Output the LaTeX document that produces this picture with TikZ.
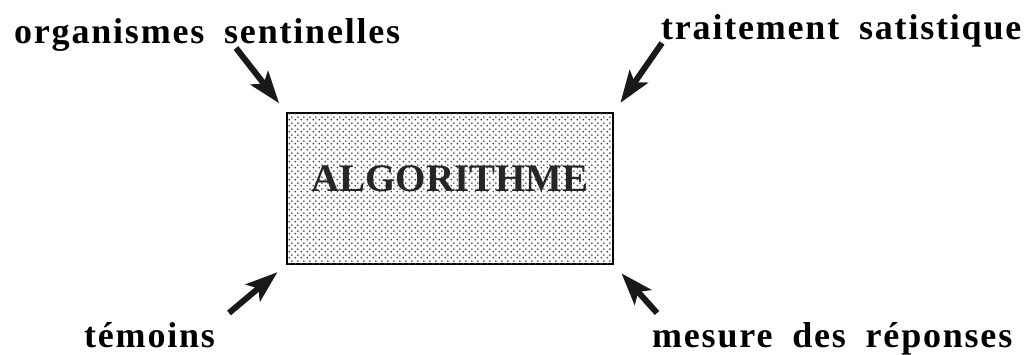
\documentclass[tikz,border=0pt]{standalone}
\usepackage{fontspec}
\setmainfont{Liberation Serif}
\usetikzlibrary{arrows.meta,patterns.meta}

% halftone dot screen for the process box
\tikzdeclarepattern{
  name=screendots,
  type=uncolored,
  bounding box={(0pt,0pt) and (6pt,6pt)},
  tile size={(6pt,6pt)},
  code={
    \fill (1.5pt,1.5pt) circle (1.1pt);
    \fill (4.5pt,4.5pt) circle (1.1pt);
  }
}

\tikzset{
  label text/.style={anchor=base west, inner sep=0pt,
    font=\fontsize{36}{40}\selectfont\bfseries\addfontfeatures{LetterSpace=5}},
  process/.style={draw=black, line width=2.2pt, fill=white,
    postaction={pattern=screendots, pattern color=black!75},
    minimum width=326pt, minimum height=151pt, inner sep=0pt},
  input arrow/.style={line width=6pt, draw=black!90,
    -{Stealth[length=32pt,width=22pt,inset=7pt]}, shorten >=11pt}
}

\newcommand{\wsp}{\hspace{0.55em}}

\begin{document}
\begin{tikzpicture}[x=1pt,y=-1pt]
  \useasboundingbox (0,0) rectangle (1030,354);

  % central box
  \node[process] (algo) at (450,188.5) {};
  \node[anchor=base, inner sep=0pt, font=\fontsize{39}{40}\selectfont\bfseries,
        text=black!85] (title) at (450,191) {ALGORITHME};

  % labels
  \node[label text] (sent) at (14,43) {organismes\wsp sentinelles};
  \node[label text] (stat) at (661,39) {traitement\wsp satistique};
  \node[label text] (temo) at (84,347) {témoins};
  \node[label text] (mesu) at (652,347) {mesure\wsp des\wsp réponses};

  % arrow tails
  \coordinate (tl) at (236,48);
  \coordinate (tr) at (662,43);
  \coordinate (bl) at (229,313);
  \coordinate (br) at (657,313);

  % arrows pointing at the box corners
  \draw[input arrow] (tl) -- (algo.north west);
  \draw[input arrow] (tr) -- (algo.north east);
  \draw[input arrow] (bl) -- (algo.south west);
  \draw[input arrow] (br) -- (algo.south east);
\end{tikzpicture}
\end{document}
